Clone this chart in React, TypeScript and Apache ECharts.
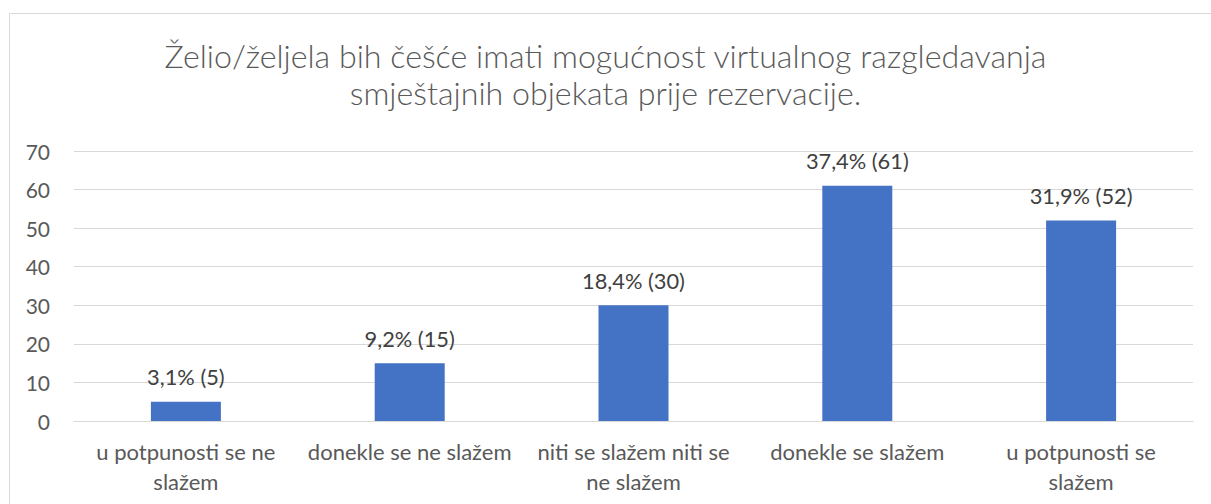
import React, { useEffect, useRef } from "react";
import * as echarts from "echarts";

const categories = [
  "u potpunosti se ne\nslažem",
  "donekle se ne slažem",
  "niti se slažem niti se\nne slažem",
  "donekle se slažem",
  "u potpunosti se\nslažem",
];
const counts = [5, 15, 30, 61, 52];
const percents = ["3,1%", "9,2%", "18,4%", "37,4%", "31,9%"];
const titleText = "Želio/željela bih češće imati mogućnost virtualnog razgledavanja\nsmještajnih objekata prije rezervacije.";

const FONT = "Lato, 'Open Sans', sans-serif";

export default function App() {
  const ref = useRef<HTMLDivElement>(null);
  useEffect(() => {
    if (!ref.current) return;
    const chart = echarts.init(ref.current, undefined, { renderer: "svg" });
    chart.setOption({
      animation: false,
      backgroundColor: "#ffffff",
      title: {
        text: titleText,
        left: "center",
        top: 32,
        textStyle: {
          fontFamily: FONT,
          fontSize: 32.2,
          fontWeight: 300,
          color: "#595959",
          lineHeight: 37,
        },
      },
      graphic: [
        {
          type: "rect",
          shape: { x: 9.5, y: 13.5, width: 1400, height: 700 },
          style: { fill: "none", stroke: "#d9d9d9", lineWidth: 1 },
          silent: true,
        },
      ],
      grid: { left: 74, right: 18, top: 151, bottom: 83, containLabel: false },
      xAxis: {
        type: "category",
        data: categories,
        axisLine: { lineStyle: { color: "#d9d9d9", width: 1 } },
        axisTick: { show: false },
        axisLabel: {
          fontFamily: FONT,
          fontSize: 22,
          color: "#595959",
          lineHeight: 30,
          margin: 15,
          interval: 0,
        },
      },
      yAxis: {
        type: "value",
        min: 0,
        max: 70,
        interval: 10,
        axisLine: { show: false },
        axisTick: { show: false },
        splitLine: { lineStyle: { color: "#d9d9d9", width: 1 } },
        axisLabel: {
          fontFamily: FONT,
          fontSize: 21,
          color: "#595959",
          margin: 24,
        },
      },
      series: [
        {
          type: "bar",
          data: counts,
          barWidth: 70,
          itemStyle: { color: "#4472C4" },
          label: {
            show: true,
            position: "top",
            distance: 14,
            fontFamily: FONT,
            fontSize: 21.8,
            color: "#404040",
            formatter: (p: any) => `${percents[p.dataIndex]} (${counts[p.dataIndex]})`,
          },
        },
      ],
    });
    return () => chart.dispose();
  }, []);
  return (
    <div
      ref={ref}
      style={{ position: "fixed", left: 0, top: 0, width: 1211, height: 504 }}
    />
  );
}
